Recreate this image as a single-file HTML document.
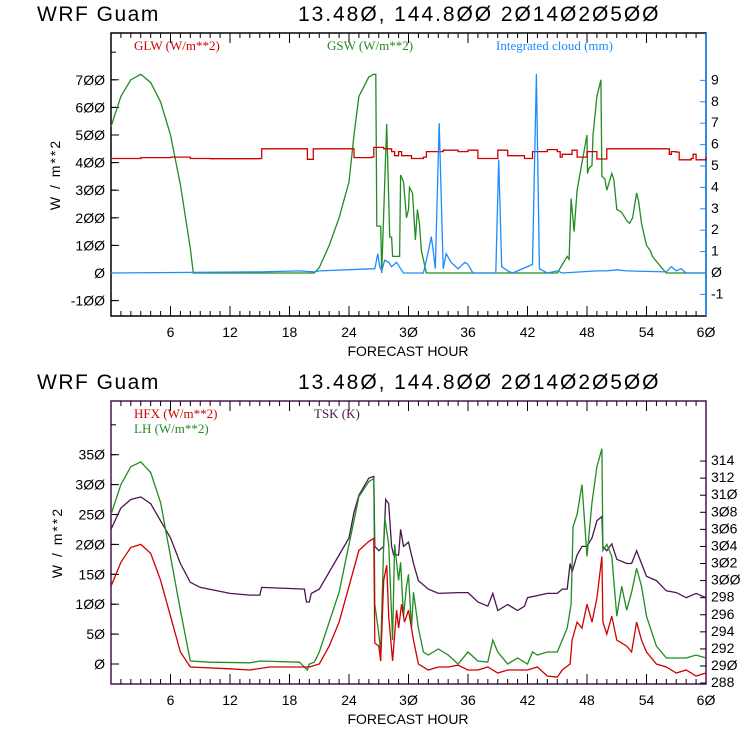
<!DOCTYPE html>
<html><head><meta charset="utf-8"><style>
body{margin:0;background:#fff}
svg{display:block}
text{font-family:"Liberation Sans",sans-serif}
.lab{font-size:14px;fill:#000}
.tit{font-size:21px;fill:#000;letter-spacing:1.5px}
.leg{font-family:"Liberation Serif",serif;font-size:13px}
</style></head><body>
<svg id="c" width="740" height="740" viewBox="0 0 740 740"></svg>
<script>
// ---------- top panel data ----------
const gswHours=[0,1,2,3,4,5,6,7,8,8.3,20.5,21,22,23,24,24.5,25,26,26.5,26.7,26.8,27.2,27.3,27.8,28.1,28.3,28.4,29.1,29.2,29.5,29.8,30,30.1,30.4,30.7,30.9,31.1,31.3,31.8,45,45.5,46,46.2,46.3,46.4,46.7,47,47.5,48,48.05,48.2,48.5,48.6,49,49.4,49.5,49.8,50,50.5,50.7,51,51.5,52,52.3,52.6,53,53.2,53.5,54,54.4,54.6,55.5,56,60];
const gswValues=[530,640,700,720,690,620,500,320,90,0,0,20,100,200,330,500,640,710,720,720,170,170,0,540,130,130,60,60,355,330,200,230,310,290,120,230,180,80,0,0,30,60,50,160,270,150,300,400,500,360,380,390,500,640,700,350,340,300,360,340,230,220,190,180,200,290,260,180,100,80,60,20,0,0];
const glwHours=[0,3,6,8,10,12,15,15.2,19.7,19.8,20.3,20.4,24.4,24.5,26.3,26.5,27.5,28.3,28.6,29,29.3,30.3,31.5,31.8,33.5,35,36,37,39,40,41.7,42.5,43,44,45,45.3,45.5,46.5,47,48,49,50,56,56.3,56.5,57,57.3,58.5,58.7,59,60];
const glwValues=[415,418,420,415,414,414,415,450,450,412,412,450,450,418,420,455,450,440,425,440,425,415,420,440,445,440,445,415,445,425,415,440,440,447,440,420,430,445,420,440,413,450,450,430,440,438,410,415,430,410,420];
const cloudHours=[0,15,19,20.5,21,26.6,26.9,27.1,27.3,27.6,28,28.3,28.8,29.2,29.5,31.5,32,32.3,32.5,32.7,33.1,33.5,33.8,34.3,35,35.7,36,36.5,38.8,39.1,39.4,40,40.5,42,42.5,42.9,43.2,44,45,45.5,49,50,51,52,56,56.5,57,57.5,58,60];
const cloudValues=[0,0.05,0.1,0.05,0.1,0.2,0.9,0.3,0.1,0.6,0.5,0.3,0.5,0.2,0,0,1.0,1.7,1.0,0.2,7.0,0.2,0.9,0.5,0.2,0.5,0.4,0,0,5.3,0.3,0.1,0,0.3,0.4,9.3,0.2,0,0.1,0,0.1,0.1,0.15,0.1,0.05,0.3,0.1,0.2,0,0];
const topLeftTicks=[-100,0,100,200,300,400,500,600,700];
const topRightTicks=[-1,0,1,2,3,4,5,6,7,8,9];
const xTicks=[6,12,18,24,30,36,42,48,54,60];
// ---------- bottom panel data ----------
const lhHours=[0,1,2,3,4,5,6,7,8,10,14,15,19,19.8,20,20.5,21,22,23,24,24.5,25,26,26.5,26.6,27,27.2,27.5,27.6,28,28.4,28.6,29,29.2,29.5,29.8,30,30.3,30.5,31,31.5,32,33,34,35,36,37,38,38.5,39,40,41,42,42.5,43,44,45,45.5,46,46.4,46.6,47,47.5,48,48.5,49,49.5,49.6,50,50.5,51,51.5,52,52.5,53,53.5,54,55,56,58,59,60];
const lhValues=[250,300,330,338,320,270,180,90,5,3,2,5,3,-10,0,3,20,70,120,200,240,280,305,310,100,50,20,200,245,200,40,200,140,170,80,130,150,60,120,60,20,15,25,15,0,20,5,3,40,20,0,10,0,20,15,20,20,40,60,100,230,250,300,180,270,330,360,190,200,180,80,130,90,120,160,130,80,30,10,10,15,10];
const hfxHours=[0,1,2,3,4,5,6,7,8,12,14,16,20,21,22,23,24,25,26,26.5,26.6,27,27.2,27.5,27.8,28,28.4,28.8,29,29.3,29.6,30,30.5,31,32,33,34,35,36,37,38,39,40,42,43,44,45,45.5,46.3,46.5,47,47.5,48,48.5,49,49.5,49.6,50,50.5,51,52,52.5,53,53.5,54,55,56,57,58,59,60];
const hfxValues=[130,170,195,200,185,140,80,20,-5,-8,-10,-5,-5,0,30,70,130,190,205,210,35,30,5,140,165,80,5,90,60,100,70,90,40,0,-10,-5,-5,-2,-10,-10,-5,-15,-10,-10,-5,-20,-22,-10,0,40,70,60,100,70,110,180,70,50,80,40,30,20,70,40,20,0,-5,-15,-10,-20,-15];
const tskHours=[0,1,2,3,4,5,6,7,8,9,12,14,15,15.2,19.5,19.7,20,20.2,21,22,23,24,24.5,25,26,26.5,26.6,27,27.5,27.7,28,28.3,28.5,29,29.2,29.5,30,30.5,31,32,33,35,36,37,38,38.5,39,40,41,41.7,42,44,45,45.5,46,46.3,46.5,47,47.5,48,48.5,49,49.5,49.6,50,50.5,51,52,52.5,53,53.5,54,55,56,57,58,59,60];
const tskValues=[306,308.5,309.5,309.8,309,307,305,302,299.8,299.2,298.5,298.3,298.3,299.2,299,297.5,297.5,298.5,299,301,303,305,308,310,312,312.2,304,303.5,304,309.5,309,304,303,303,306,304,304.5,302,300,299,298.5,298.6,298.6,297.5,297,298.5,296.5,297.2,296.5,297,298,298.5,298.5,299,299,302,301,303,304,304,305,307,307.5,304,303.5,304.3,302.5,302,302,303.5,302,300.5,300,298.8,298.6,298,298.5,298];
const botLeftTicks=[0,50,100,150,200,250,300,350];
const botRightTicks=[288,290,292,294,296,298,300,302,304,306,308,310,312,314];

const NS='http://www.w3.org/2000/svg';
const svg=document.getElementById('c');
function mk(tag,attrs,parent){const e=document.createElementNS(NS,tag);for(const k in attrs)e.setAttribute(k,attrs[k]);(parent||svg).appendChild(e);return e;}
const X0=111,X1=706;
const xs=h=>X0+(X1-X0)*h/60;

function panel(cfg){
  const g=mk('g',{});
  
  
  let t=mk('text',{x:37,y:cfg.top-12,class:'tit'},g);t.textContent='WRF   Guam';
  
  
  t=mk('text',{x:298,y:cfg.top-12,class:'tit',textLength:362},g);t.textContent='13.48\u00d8, 144.8\u00d8\u00d8  2\u00d814\u00d82\u00d85\u00d8\u00d8';
  
  
  const box=mk('rect',{x:X0,y:cfg.top,width:X1-X0,height:cfg.bot-cfg.top,fill:'none',stroke:cfg.frame,'stroke-width':1.5},g);
  
  
  if(cfg.rightColor){const rl=mk('line',{x1:X1,y1:cfg.top,x2:X1,y2:cfg.bot,stroke:cfg.rightColor,'stroke-width':1.5},g);
    
    }
  for(let h=1;h<60;h++){
    const x=xs(h),L=(h%6==0)?10:5;
    mk('line',{x1:x,y1:cfg.bot,x2:x,y2:cfg.bot-L,stroke:'#000'},g);
    mk('line',{x1:x,y1:cfg.top,x2:x,y2:cfg.top+L,stroke:'#000'},g);
  }
  xTicks.forEach(h=>{const tt=mk('text',{x:xs(h),y:cfg.bot+21,class:'lab','text-anchor':'middle'},g);tt.textContent=String(h).replace(/0/g,'\u00d8');
    
    });
  const xt=mk('text',{x:408,y:cfg.bot+40,class:'lab','text-anchor':'middle','font-size':'16'},g);xt.textContent='FORECAST HOUR';
  
  
  cfg.lt.forEach(v=>{const y=cfg.ly(v);mk('line',{x1:X0,y1:y,x2:X0+8,y2:y,stroke:'#000'},g);
    const tt=mk('text',{x:X0-6,y:y+5,class:'lab','text-anchor':'end'},g);tt.textContent=String(v).replace(/0/g,'\u00d8');
    
    });
  for(let v=cfg.lt[0]-cfg.lstep;v<cfg.lt[cfg.lt.length-1]+4*cfg.lstep;v+=cfg.lstep){const y=cfg.ly(v);if(y>cfg.top&&y<cfg.bot)mk('line',{x1:X0,y1:y,x2:X0+5,y2:y,stroke:'#000'},g);}
  const yt=mk('text',{x:0,y:0,class:'lab','font-size':'18','text-anchor':'middle','letter-spacing':'2',transform:`translate(${cfg.ytx},${(cfg.top+cfg.bot)/2}) rotate(-90)`},g);yt.textContent='W / m**2';
  
  
  cfg.rt.forEach(v=>{const y=cfg.ry(v);mk('line',{x1:X1,y1:y,x2:X1-6,y2:y,stroke:cfg.rightColor||'#000'},g);
    const tt=mk('text',{x:X1+5,y:y+4,class:'lab','font-size':cfg.rfs},g);tt.textContent=String(v).replace(/0/g,'\u00d8');
    
    });
  cfg.series.forEach(s=>{
    let arr=[];
    s.h.forEach((h,i)=>{
      if(s.step&&i>0)arr.push(xs(h).toFixed(1)+','+s.y(s.v[i-1]).toFixed(1));
      arr.push(xs(h).toFixed(1)+','+s.y(s.v[i]).toFixed(1));
    });
    const p=mk('polyline',{points:arr.join(' '),fill:'none',stroke:s.c,'stroke-width':1.3},g);
    
    
  });
  cfg.legend.forEach(l=>{const tt=mk('text',{x:l.x,y:l.y,class:'leg',fill:l.c},g);tt.textContent=l.t;
    
    });
}
const tly=v=>273-v*0.276, try_=v=>273-v*21.4;
panel({name:'radiation-panel',top:33,bot:316,frame:'#000',rightColor:'#1e8cff',lt:topLeftTicks,lstep:100,ly:tly,ry:try_,rt:topRightTicks,rfs:13,ytx:60,
 series:[{name:'gsw-line',h:gswHours,v:gswValues,y:tly,c:'#228b22'},{name:'glw-line',h:glwHours,v:glwValues,y:tly,c:'#d00000',step:true},{name:'cloud-line',h:cloudHours,v:cloudValues,y:try_,c:'#1e8cff'}],
 legend:[{x:134,y:50,t:'GLW (W/m**2)',c:'#d00000'},{x:327,y:50,t:'GSW (W/m**2)',c:'#228b22'},{x:496,y:50,t:'Integrated cloud (mm)',c:'#1e8cff'}]});
const bly=v=>664-v*0.598, bry=v=>666-(v-290)*8.54;
panel({name:'flux-panel',top:401,bot:684,frame:'#4b1450',rightColor:null,lt:botLeftTicks,lstep:50,ly:bly,ry:bry,rt:botRightTicks,rfs:10,ytx:62,
 series:[{name:'tsk-line',h:tskHours,v:tskValues,y:bry,c:'#4b1450'},{name:'lh-line',h:lhHours,v:lhValues,y:bly,c:'#228b22'},{name:'hfx-line',h:hfxHours,v:hfxValues,y:bly,c:'#d00000'}],
 legend:[{x:134,y:418,t:'HFX (W/m**2)',c:'#d00000'},{x:134,y:433,t:'LH  (W/m**2)',c:'#228b22'},{x:314,y:418,t:'TSK (K)',c:'#4b1450'}]});
</script>
</body></html>
